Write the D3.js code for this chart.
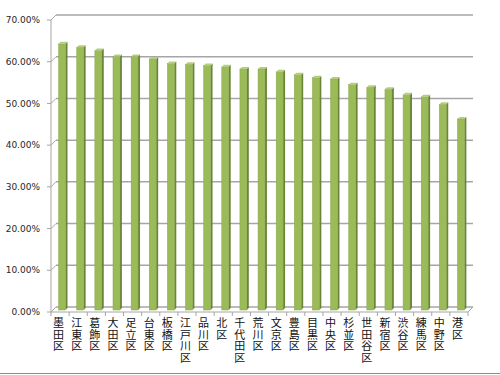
<!DOCTYPE html>
<html>
<head>
<meta charset="utf-8">
<script src="https://cdn.jsdelivr.net/npm/d3@7"></script>
<style>
  body { margin: 0; background: #fff; }
  svg { display: block; }
</style>
</head>
<body>
<div id="chart"></div>
<script>
// --- Données ---
const wards = ["墨田区", "江東区", "葛飾区", "大田区", "足立区", "台東区", "板橋区", "江戸川区",
  "品川区", "北区", "千代田区", "荒川区", "文京区", "豊島区", "目黒区", "中央区", "杉並区",
  "世田谷区", "新宿区", "渋谷区", "練馬区", "中野区", "港区"];
const rates = [0.638, 0.630, 0.622, 0.608, 0.608, 0.602, 0.591, 0.589, 0.586, 0.583, 0.578,
  0.578, 0.571, 0.564, 0.557, 0.554, 0.540, 0.534, 0.529, 0.516, 0.511, 0.493, 0.458];
const yTicks = [0, 0.1, 0.2, 0.3, 0.4, 0.5, 0.6, 0.7];

const width = 500, height = 375;
const depth = 5;          // décalage 3D du mur du fond
const barDepth = 3;       // décalage de la face avant des barres
const barSide = 2;        // épaisseur de la face latérale

const svg = d3.select("#chart").append("svg")
  .attr("width", width).attr("height", height);

// échelles sur le mur du fond
const x = d3.scaleBand().domain(wards).range([56, 473]).paddingInner(0.62).paddingOuter(0.31);
const xFront = d3.scaleBand().domain(wards).range([51, 468]);
const y = d3.scaleLinear().domain([0, 0.7]).range([307, 15]);

const grid = "#a6a6a6";

// --- Grille (mur du fond) ---
svg.append("g")
  .selectAll("line")
  .data(yTicks)
  .join("line")
  .attr("x1", 56).attr("x2", 473)
  .attr("y1", d => y(d)).attr("y2", d => y(d))
  .attr("stroke", grid).attr("stroke-width", 1.5);

// --- Mur latéral gauche ---
const left = svg.append("g").attr("stroke", grid).attr("stroke-width", 1);
left.append("line").attr("x1", 51).attr("x2", 51)
  .attr("y1", y(0.7) + depth).attr("y2", y(0) + depth);
left.selectAll("line.diag").data(yTicks).join("line").attr("class", "diag")
  .attr("x1", 51).attr("y1", d => y(d) + depth)
  .attr("x2", 56).attr("y2", d => y(d));
left.selectAll("line.tick").data(yTicks).join("line").attr("class", "tick")
  .attr("x1", 47).attr("x2", 51)
  .attr("y1", d => y(d) + depth).attr("y2", d => y(d) + depth);

// --- Sol ---
const floor = svg.append("g").attr("stroke", grid).attr("stroke-width", 1).attr("fill", "none");
floor.append("path")
  .attr("d", `M51,${y(0) + depth}L468,${y(0) + depth}L473,${y(0)}`);
floor.selectAll("line").data(d3.range(wards.length + 1)).join("line")
  .attr("x1", i => 51 + i * xFront.step()).attr("x2", i => 51 + i * xFront.step())
  .attr("y1", y(0) + depth).attr("y2", y(0) + depth + 4);

// --- Barres 3D ---
const bars = svg.append("g")
  .selectAll("g")
  .data(wards.map((w, i) => ({ name: w, value: rates[i] })))
  .join("g");

const bx = d => x(d.name) - barDepth;
const bw = x.bandwidth();
const barTop = d => y(d.value) + barDepth;
const base = y(0) + barDepth;

// face latérale
bars.append("path")
  .attr("d", d => `M${bx(d) + bw},${barTop(d)}L${bx(d) + bw + barSide},${barTop(d) - barSide}` +
    `L${bx(d) + bw + barSide},${base - barSide}L${bx(d) + bw},${base}Z`)
  .attr("fill", "#6b8537");

// face avant
bars.append("rect")
  .attr("x", bx)
  .attr("y", barTop)
  .attr("width", bw)
  .attr("height", d => base - barTop(d))
  .attr("fill", "#9bbb59")
  .attr("stroke", "#86a548").attr("stroke-width", 0.5);

// dessus
bars.append("path")
  .attr("d", d => `M${bx(d)},${barTop(d)}L${bx(d) + barSide},${barTop(d) - barSide}` +
    `L${bx(d) + bw + barSide},${barTop(d) - barSide}L${bx(d) + bw},${barTop(d)}Z`)
  .attr("fill", "#b4cf7c");

// --- Labels axe Y ---
svg.append("g")
  .attr("font-family", "'DejaVu Sans', Verdana, sans-serif")
  .attr("font-size", 9)
  .attr("fill", "#262626")
  .attr("text-anchor", "end")
  .selectAll("text")
  .data(yTicks)
  .join("text")
  .attr("x", 40)
  .attr("y", d => y(d) + depth)
  .attr("dy", "0.35em")
  .text(d => (d * 100).toFixed(2) + "%");

// --- Labels axe X (verticaux) ---
const xl = svg.append("g")
  .attr("font-family", "'Noto Sans CJK JP', sans-serif")
  .attr("font-size", 11)
  .attr("fill", "#111")
  .attr("text-anchor", "middle")
  .selectAll("text")
  .data(wards)
  .join("text")
  .attr("x", d => xFront(d) + xFront.bandwidth() / 2 - 1.5)
  .attr("y", 327);

xl.selectAll("tspan")
  .data(d => Array.from(d))
  .join("tspan")
  .attr("x", function () { return d3.select(this.parentNode).attr("x"); })
  .attr("dy", (c, i) => i === 0 ? 0 : 11.5)
  .text(c => c);

// --- Cadre bas ---
svg.append("line")
  .attr("x1", 0).attr("x2", width)
  .attr("y1", 373.5).attr("y2", 373.5)
  .attr("stroke", "#8c8c8c").attr("stroke-width", 1);
</script>
</body>
</html>
